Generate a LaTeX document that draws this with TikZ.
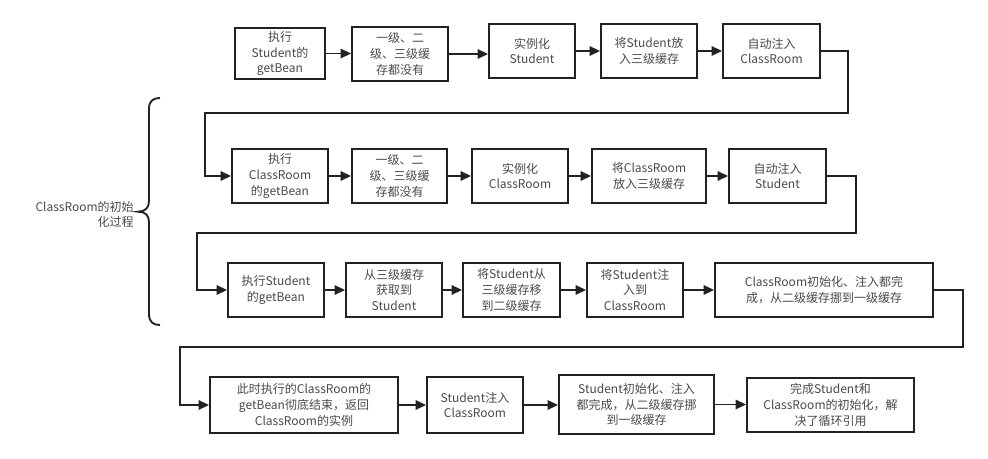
\documentclass[tikz,border=0pt]{standalone}
\usepackage{fontspec}
\setmainfont{Noto Sans CJK SC}
\usetikzlibrary{arrows.meta}
\definecolor{edge}{HTML}{222222}
\definecolor{txt}{HTML}{4A4A4A}
\tikzset{
  box/.style={draw=edge, line width=1.4pt, fill=white, inner sep=0pt, align=center,
    text=txt, font=\fontsize{9}{11.7}\selectfont},
  arr/.style={draw=edge, line width=1.4pt, -{Triangle[length=7.8pt,width=7pt]}},
  lbl/.style={text=txt, font=\fontsize{9}{11.7}\selectfont, inner sep=0pt}
}
\newcommand{\bx}[6]{\node[box, minimum width={(#4-#2)*0.75pt}, minimum height={(#5-#3)*0.75pt}] (#1) at ({(#2+#4)/2},{(#3+#5)/2}) {#6};}
\begin{document}
\begin{tikzpicture}[x=0.75pt,y=-0.75pt]
\useasboundingbox (0,0) rectangle (988,459);
% row 1
\bx{A1}{235}{28}{325}{79}{执行\\Student的\\getBean}
\bx{A2}{352}{27}{448}{81}{一级、二\\级、三级缓\\存都没有}
\bx{A3}{489}{24}{575}{78}{实例化\\Student}
\bx{A4}{601}{24}{697}{78}{将Student放\\入三级缓存}
\bx{A5}{723}{24}{820}{78}{自动注入\\ClassRoom}
% row 2
\bx{B1}{232}{149}{328}{203}{执行\\ClassRoom\\的getBean}
\bx{B2}{352}{149}{447}{203}{一级、二\\级、三级缓\\存都没有}
\bx{B3}{472}{149}{568}{203}{实例化\\ClassRoom}
\bx{B4}{592}{149}{706}{203}{将ClassRoom\\放入三级缓存}
\bx{B5}{729}{149}{826}{203}{自动注入\\Student}
% row 3
\bx{C1}{228}{263}{324}{317}{执行Student\\的getBean}
\bx{C2}{346}{263}{442}{317}{从三级缓存\\获取到\\Student}
\bx{C3}{463}{263}{560}{317}{将Student从\\三级缓存移\\到二级缓存}
\bx{C4}{587}{263}{683}{317}{将Student注\\入到\\ClassRoom}
\bx{C5}{715}{263}{933}{317}{ClassRoom初始化、注入都完\\成，从二级缓存挪到一级缓存}
% row 4
\bx{D1}{210}{377}{398}{433}{此时执行的ClassRoom的\\getBean彻底结束，返回\\ClassRoom的实例}
\bx{D2}{427}{377}{523}{433}{Student注入\\ClassRoom}
\bx{D3}{559}{375}{714}{434}{Student初始化、注入\\都完成，从二级缓存挪\\到一级缓存}
\bx{D4}{747}{378}{914}{432}{完成Student和\\ClassRoom的初始化，解\\决了循环引用}
% horizontal arrows
\foreach \a/\b in {A1/A2,A2/A3,A3/A4,A4/A5,B1/B2,B2/B3,B3/B4,B4/B5,C1/C2,C2/C3,C3/C4,C4/C5,D1/D2,D2/D3,D3/D4}
  \draw[arr] (\a.east) -- (\a.east -| \b.west);
% row-to-row connectors
\coordinate (w1) at (848,113); \coordinate (w2) at (205,113);
\coordinate (w3) at (856,233); \coordinate (w4) at (197,233);
\coordinate (w5) at (963,347); \coordinate (w6) at (180,347);
\draw[arr] (A5.east) -| (w1) -- (w2) |- (B1.west);
\draw[arr] (B5.east) -| (w3) -- (w4) |- (C1.west);
\draw[arr] (C5.east) -| (w5) -- (w6) |- (D1.west);
% brace
\draw[draw=edge, line width=1.4pt] (160,98) .. controls (153,98) and (149,101) .. (149,109)
  -- (149,201) .. controls (149,208) and (145,211.7) .. (138,211.7)
  .. controls (145,211.7) and (149,215) .. (149,222) -- (149,314)
  .. controls (149,322) and (153,325) .. (160,325);
\node[lbl, align=right, anchor=east] (title) at (134,214.5) {ClassRoom的初始\\化过程};
\end{tikzpicture}
\end{document}
